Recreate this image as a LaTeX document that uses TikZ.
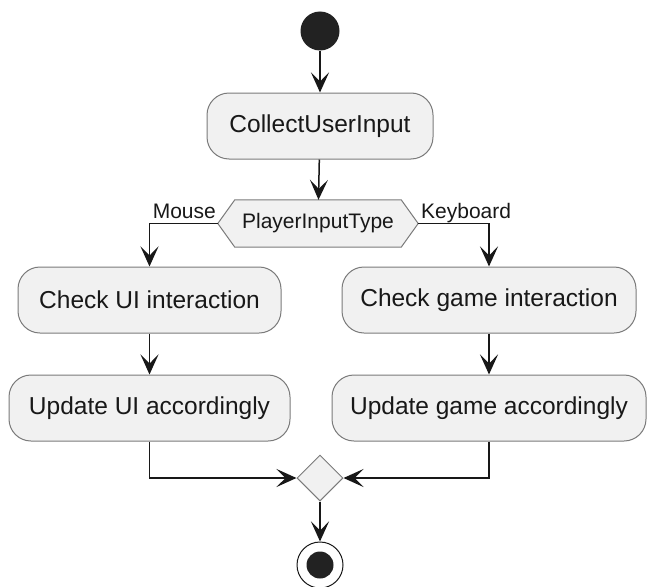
\documentclass[tikz,border=0pt]{standalone}
\usepackage{fontspec}
\setmainfont{Liberation Sans}
\usetikzlibrary{shapes.geometric,arrows.meta,backgrounds}
\definecolor{ln}{HTML}{181818}
\definecolor{bd}{HTML}{7A7A7A}
\definecolor{bx}{HTML}{F1F1F1}
\definecolor{dot}{HTML}{222222}
\begin{document}
\begin{tikzpicture}[x=1pt,y=-1pt,
 act/.style={draw=bd, line width=1pt, fill=bx, text=ln, rounded corners=22pt, minimum height=66pt, inner sep=0pt, font=\fontsize{24.5}{29}\selectfont},
 flow/.style={draw=ln, line width=1.5pt, -{Stealth[length=20pt,width=18pt,inset=9pt]}},
 lbl/.style={font=\fontsize{21}{25}\selectfont, inner sep=0pt, text=ln}]
\useasboundingbox (0,0) rectangle (647,586);
\node[circle, fill=dot, minimum size=39pt, inner sep=0pt] (start) at (320,31) {};
\node[act, minimum width=226pt] (collect) at (320,126) {CollectUserInput};
\node[lbl, minimum width=200pt, minimum height=47pt] (dec) at (318,223.5) {PlayerInputType};
\begin{scope}[on background layer]
\draw[bd, line width=1pt, fill=bx] (dec.west) -- ([xshift=17pt]dec.north west) -- ([xshift=-17pt]dec.north east) -- (dec.east) -- ([xshift=-17pt]dec.south east) -- ([xshift=17pt]dec.south west) -- cycle;
\end{scope}
\node[act, minimum width=263pt] (cui) at (149.5,300) {Check UI interaction};
\node[act, minimum width=294pt] (cgame) at (489,300) {Check game interaction};
\node[act, minimum width=281pt] (uui) at (149.5,408) {Update UI accordingly};
\node[act, minimum width=314pt] (ugame) at (489,408) {Update game accordingly};
\node[diamond, draw=bd, fill=bx, line width=1pt, minimum width=46pt, minimum height=46pt, inner sep=0pt] (merge) at (320,478) {};
\node[circle, draw=ln, line width=1pt, fill=white, minimum size=46pt, inner sep=0pt] (stop) at (320,565) {};
\node[circle, fill=dot, minimum size=27pt, inner sep=0pt] (stopin) at (stop.center) {};
\draw[flow] (start) -- (collect);
\draw[flow] (collect) -- (dec);
\draw[flow] (dec.west) -| (cui.north);
\draw[flow] (dec.east) -| (cgame.north);
\node[lbl, anchor=base east] (lmouse) at (216,218) {Mouse};
\node[lbl, anchor=base west] (lkey) at (421,218) {Keyboard};
\draw[flow] (cui) -- (uui);
\draw[flow] (cgame) -- (ugame);
\draw[flow] (uui.south) |- (merge.west);
\draw[flow] (ugame.south) |- (merge.east);
\draw[flow] (merge) -- (stop);
\end{tikzpicture}
\end{document}
